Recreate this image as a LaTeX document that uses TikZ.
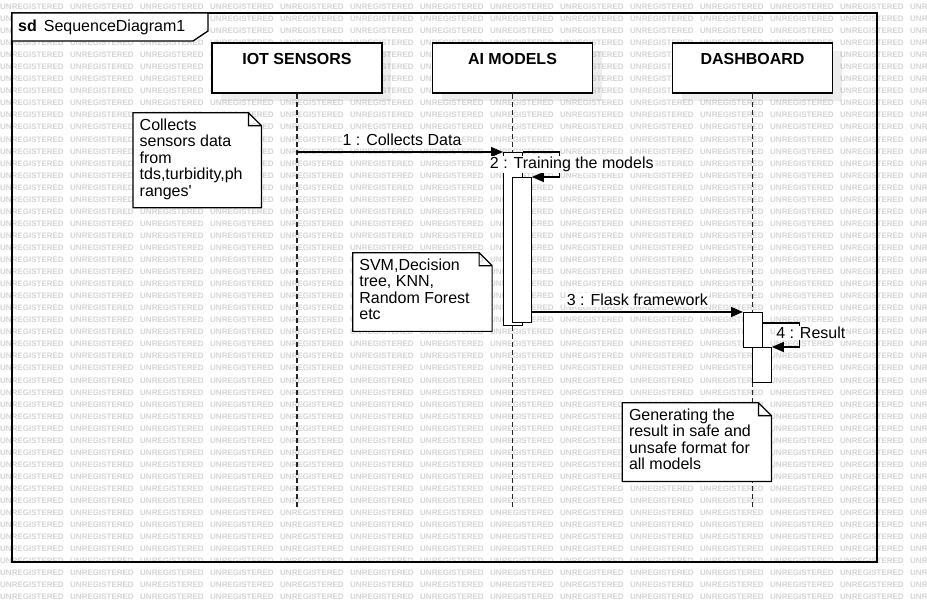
\documentclass[tikz,border=0pt]{standalone}
\usepackage{fontspec}
\setmainfont{Liberation Sans}
\usetikzlibrary{arrows.meta,shadows}

\tikzset{
    wm/.style={font=\fontsize{8}{8}\selectfont\bfseries, text=black!17, inner sep=0pt, anchor=base west},
    frame/.style={draw, line width=1.3pt},
    head/.style={draw, fill=white, line width=1.3pt, minimum height=50pt, anchor=north,
        font=\fontsize{16}{18}\selectfont\bfseries, text height=11.5pt, text depth=18.5pt, inner ysep=10pt,
        drop shadow={shadow xshift=9pt, shadow yshift=-8pt, fill=black, opacity=0.07}},
    lifeline/.style={line width=1.3pt, black!85, dash pattern=on 5pt off 3pt},
    actbar/.style={draw, fill=white, line width=1.3pt, inner sep=0pt, minimum width=18.5pt, anchor=north west},
    msg/.style={line width=1.2pt, -{Triangle[length=12pt,width=10pt]}},
    msglbl/.style={fill=white, inner sep=1pt, anchor=base, font=\fontsize{16}{18}\selectfont},
    note/.style={inner sep=0pt, anchor=north west},
    notebox/.style={draw, fill=white, line width=1.2pt},
    notetxt/.style={inner sep=0pt, align=left, anchor=north west, font=\fontsize{16}{16.4}\selectfont},
}

\begin{document}
\begin{tikzpicture}[x=1pt, y=-1pt]
    \useasboundingbox (0,0) rectangle (927,612);

    % Watermark
    \foreach \r in {0,...,49}
        \foreach \c in {0,...,13}
            \node[wm] at (70*\c, 9.5+12.05*\r) {UNREGISTERED};

    % Frame
    \draw[frame] (12,13) rectangle (877,562);
    \draw[frame, fill=white] (12,13) -- (208,13) -- (208,31) -- (193,41) -- (12,41) -- cycle;
    \node[anchor=base west, inner sep=0pt, font=\fontsize{16}{18}\selectfont] (sdLbl) at (18,31.5) {\textbf{sd}\hspace{7pt}SequenceDiagram1};

    % Lifelines
    \node[head, minimum width=170pt] (iot) at (297,42.5) {IOT SENSORS};
    \node[head, minimum width=160pt] (ai) at (512.5,42.5) {AI MODELS};
    \node[head, minimum width=160pt] (dash) at (752.5,42.5) {DASHBOARD};

    \coordinate (iotEnd) at (297,509);
    \coordinate (aiEnd) at (512.5,509);
    \coordinate (dashEnd) at (752.5,509);
    \draw[lifeline] (iot.south) -- (iotEnd);
    \draw[lifeline] (ai.south) -- (aiEnd);
    \draw[lifeline] (dash.south) -- (dashEnd);

    % Notes
    \node[note, minimum width=128pt, minimum height=94.6pt] (noteIot) at (133,112.7) {};
    \node[note, minimum width=139pt, minimum height=78.3pt] (noteAi) at (352.7,252.7) {};
    \node[note, minimum width=148.7pt, minimum height=78.3pt] (noteDash) at (622.3,402.7) {};
    \foreach \n in {noteIot,noteAi,noteDash}
        \draw[notebox] (\n.north west) -- ([xshift=-13pt]\n.north east) -- ([yshift=-13pt]\n.north east)
            -- (\n.south east) -- (\n.south west) -- cycle
            ([xshift=-13pt]\n.north east) -- ([xshift=-13pt, yshift=-13pt]\n.north east) -- ([yshift=-13pt]\n.north east);
    \node[notetxt] (noteIotTxt) at ([xshift=6.5pt, yshift=-6pt]noteIot.north west) {Collects\\sensors data\\from\\tds,turbidity,ph\\ranges\textquotesingle};
    \node[notetxt] (noteAiTxt) at ([xshift=6.5pt, yshift=-6pt]noteAi.north west) {SVM,Decision\\tree, KNN,\\Random Forest\\etc};
    \node[notetxt] (noteDashTxt) at ([xshift=6.5pt, yshift=-6pt]noteDash.north west) {Generating the\\result in safe and\\unsafe format for\\all models};

    % Activations
    \node[actbar, minimum height=173pt] (aiAct1) at (503,152) {};
    \node[actbar, minimum height=145pt] (aiAct2) at (512,177) {};
    \node[actbar, minimum height=35pt] (dashAct1) at (743,312) {};
    \node[actbar, minimum height=35pt] (dashAct2) at (752,347) {};

    % Messages
    \draw[msg] (iot |- aiAct1.north west) -- (aiAct1.north west)
        node[msglbl, midway, yshift=6pt, xshift=2pt] {1 : Collects Data};
    \draw[msg] (aiAct1.north east) -- ++(37,0)
        node[msglbl, xshift=12pt, yshift=-17pt] {2 : Training the models} |- (aiAct2.north east);
    \draw[msg] (aiAct2.east |- dashAct1.north west) -- (dashAct1.north west)
        node[msglbl, midway, yshift=6pt] {3 : Flask framework};
    \draw[msg] ([yshift=-11pt]dashAct1.north east) -- ++(37,0)
        node[msglbl, xshift=11pt, yshift=-16pt] {4 : Result} |- (dashAct2.north east);
\end{tikzpicture}
\end{document}
